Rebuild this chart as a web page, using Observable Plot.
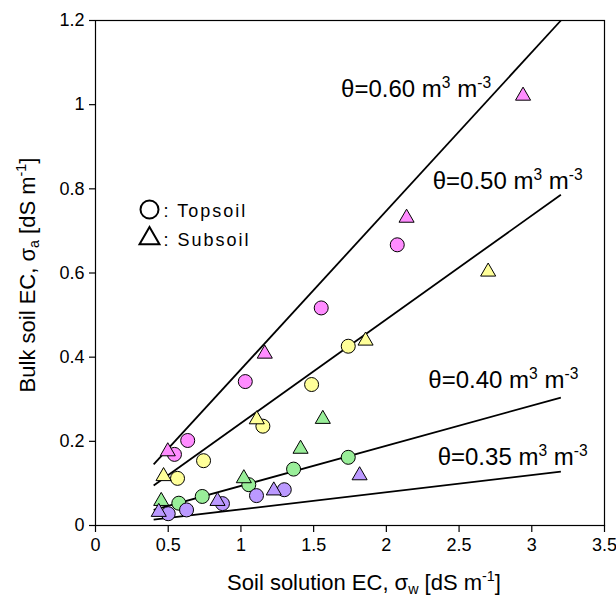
<!DOCTYPE html>
<html>
<head>
<meta charset="utf-8">
<script src="https://cdn.jsdelivr.net/npm/d3@7"></script>
<script src="https://cdn.jsdelivr.net/npm/@observablehq/plot@0.6"></script>
<style>
  html, body { margin: 0; padding: 0; background: white; }
</style>
</head>
<body>
<div id="chart"></div>
<script>
// ---- data ----
const xTicks = [0, 0.5, 1, 1.5, 2, 2.5, 3, 3.5];
const yTicks = [0, 0.2, 0.4, 0.6, 0.8, 1.0, 1.2];

const thetas = ["0.60", "0.50", "0.40", "0.35"];
const groupColors = ["#ff8cff", "#ffff99", "#99ee99", "#bb99ff"];

// Topsoil (circles)
const topX = [
  [0.543, 0.634, 1.03, 1.552, 2.075],
  [0.564, 0.743, 1.151, 1.486, 1.738],
  [0.573, 0.734, 1.054, 1.362, 1.738],
  [0.50, 0.626, 0.873, 1.107, 1.298]
];
const topY = [
  [0.169, 0.202, 0.342, 0.517, 0.667],
  [0.112, 0.154, 0.236, 0.335, 0.426],
  [0.053, 0.069, 0.097, 0.134, 0.162],
  [0.028, 0.037, 0.052, 0.071, 0.085]
];
// Subsoil (triangles)
const subX = [
  [0.497, 1.164, 2.139, 2.94],
  [0.468, 1.109, 1.857, 2.70],
  [0.452, 1.02, 1.41, 1.563],
  [0.435, 0.839, 1.226, 1.816]
];
const subY = [
  [0.176, 0.408, 0.731, 1.021],
  [0.117, 0.252, 0.439, 0.603],
  [0.058, 0.112, 0.182, 0.253],
  [0.032, 0.058, 0.083, 0.119]
];

// model lines
const lineX1 = [0.4, 0.4, 0.4, 0.4];
const lineX2 = [3.2, 3.2, 3.2, 3.2];
const lineY1 = [0.145, 0.095, 0.037, 0.014];
const lineY2 = [1.2, 0.786, 0.304, 0.128];

// line labels
const labelX = [2.72, 3.35, 3.32, 3.384];
const labelY = [1.036, 0.817, 0.344, 0.161];
const labelText = thetas.map(t => `θ=${t} m^{3} m^{-3}`);

const xTitle = "Soil solution EC, σ_{w} [dS m^{-1}]";
const yTitle = "Bulk soil EC, σ_{a} [dS m^{-1}]";
const legendLabels = [": Topsoil", ": Subsoil"];

// ---- build tables ----
const topsoil = [], subsoil = [];
thetas.forEach((t, g) => {
  topX[g].forEach((x, i) => topsoil.push({theta: t, x, y: topY[g][i]}));
  subX[g].forEach((x, i) => subsoil.push({theta: t, x, y: subY[g][i]}));
});
const lines = thetas.map((t, i) => ({theta: t, x1: lineX1[i], x2: lineX2[i], y1: lineY1[i], y2: lineY2[i]}));
const labels = thetas.map((t, i) => ({x: labelX[i], y: labelY[i], text: labelText[i]}));

const fmt = d => String(+d.toFixed(1));

const chart = Plot.plot({
  width: 616,
  height: 603,
  marginLeft: 95,
  marginRight: 12,
  marginTop: 20,
  marginBottom: 78,
  x: {domain: [0, 3.5]},
  y: {domain: [0, 1.2]},
  color: {domain: thetas, range: groupColors},
  style: {fontFamily: "'Liberation Sans', Arial, sans-serif", fontSize: "18px", color: "black", background: "white"},
  marks: [
    Plot.axisX({ticks: xTicks, tickSize: 7, tickPadding: 6, tickFormat: fmt, label: null, fontSize: 18, strokeWidth: 1.2}),
    Plot.axisY({ticks: yTicks, tickSize: 6, tickPadding: 5, tickFormat: fmt, label: null, fontSize: 18, strokeWidth: 1.2}),
    Plot.link(lines, {x1: "x1", y1: "y1", x2: "x2", y2: "y2", stroke: "black", strokeWidth: 1.8}),
    Plot.dot(topsoil, {x: "x", y: "y", r: 7, fill: "theta", stroke: "black", strokeWidth: 1}),
    Plot.dot(subsoil, {x: "x", y: "y", r: 5.6, symbol: "triangle", fill: "theta", stroke: "black", strokeWidth: 1}),
    Plot.frame({stroke: "black", strokeWidth: 1.2}),
    Plot.text(labels, {x: "x", y: "y", text: "text", textAnchor: "end", lineAnchor: "middle", fontSize: 24, fill: "black"}),
    // legend
    Plot.dot([0], {frameAnchor: "top-left", dx: 54, dy: 189, r: 9, symbol: "circle", stroke: "black", strokeWidth: 2, fill: "none"}),
    Plot.dot([0], {frameAnchor: "top-left", dx: 54, dy: 218, r: 7.4, symbol: "triangle", stroke: "black", strokeWidth: 2, fill: "none"}),
    Plot.text([legendLabels[0]], {frameAnchor: "top-left", dx: 68, dy: 191, text: d => d, textAnchor: "start", lineAnchor: "middle", fontSize: 18}),
    Plot.text([legendLabels[1]], {frameAnchor: "top-left", dx: 68, dy: 220, text: d => d, textAnchor: "start", lineAnchor: "middle", fontSize: 18}),
    // axis titles
    Plot.text([xTitle], {frameAnchor: "bottom", dx: 14, dy: 57, text: d => d, textAnchor: "middle", lineAnchor: "middle", fontSize: 22}),
    Plot.text([yTitle], {frameAnchor: "left", dx: -68, dy: 2, rotate: -90, text: d => d, textAnchor: "middle", lineAnchor: "middle", fontSize: 22})
  ]
});

// rich text: ^{..} superscript, _{..} subscript
function richify(root) {
  d3.select(root).selectAll("text").each(function() {
    const t = this.textContent;
    if (t.startsWith(":")) this.style.letterSpacing = "2px";
    if (!/[\^_]\{/.test(t)) return;
    const parts = t.split(/(\^\{[^}]*\}|_\{[^}]*\})/).filter(s => s.length);
    this.textContent = "";
    let pending = 0;
    for (const p of parts) {
      const ts = document.createElementNS("http://www.w3.org/2000/svg", "tspan");
      if (p.startsWith("^{") || p.startsWith("_{")) {
        const sup = p[0] === "^";
        const shift = sup ? -0.38 : 0.22;
        ts.setAttribute("font-size", "0.65em");
        ts.setAttribute("dy", ((shift - pending) / 0.65) + "em");
        ts.textContent = p.slice(2, -1);
        pending = shift;
      } else {
        if (pending) ts.setAttribute("dy", (-pending) + "em");
        ts.textContent = p;
        pending = 0;
      }
      this.appendChild(ts);
    }
  });
}
richify(chart);
document.getElementById("chart").appendChild(chart);
</script>
</body>
</html>
